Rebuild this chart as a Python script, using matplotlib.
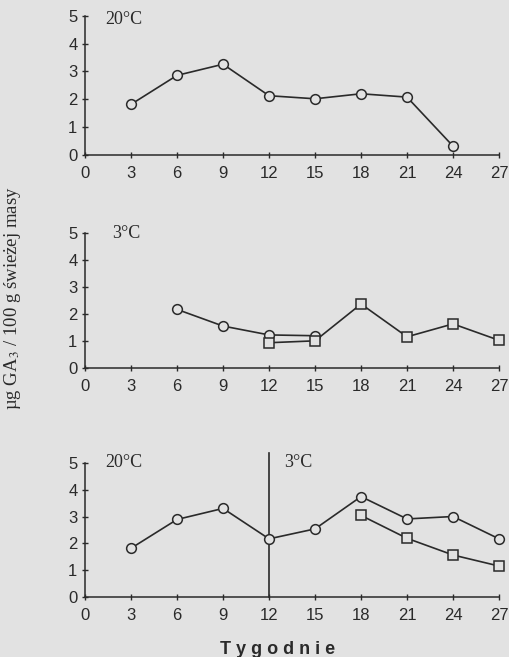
import matplotlib.pyplot as plt

# tygodnie przechowywania
weeks_ticks = [0, 3, 6, 9, 12, 15, 18, 21, 24, 27]

# panel 1 - 20 C
weeks_a = [3, 6, 9, 12, 15, 18, 21, 24]
ga_a = [1.82, 2.86, 3.26, 2.13, 2.02, 2.20, 2.08, 0.32]

# panel 2 - 3 C
weeks_b_circ = [6, 9, 12, 15]
ga_b_circ = [2.17, 1.55, 1.22, 1.19]
weeks_b_sq = [12, 15, 18, 21, 24, 27]
ga_b_sq = [0.93, 1.00, 2.37, 1.15, 1.63, 1.02]

# panel 3 - 20 C potem 3 C
weeks_c_circ = [3, 6, 9, 12, 15, 18, 21, 24, 27]
ga_c_circ = [1.82, 2.89, 3.30, 2.17, 2.54, 3.74, 2.91, 3.00, 2.17]
weeks_c_sq = [18, 21, 24, 27]
ga_c_sq = [3.04, 2.19, 1.57, 1.16]

bg = '#e2e2e2'
ink = '#2a2a2a'
serif = 'Liberation Serif'
sans = 'Liberation Sans'

fig = plt.figure(figsize=(5.1, 6.57), dpi=100, facecolor=bg)

positions = [
    [0.1667, 0.764, 0.8118, 0.212],
    [0.1667, 0.4403, 0.8118, 0.2046],
    [0.1667, 0.0909, 0.8118, 0.2049],
]
axes = [fig.add_axes(p) for p in positions]


def style(ax):
    ax.set_facecolor(bg)
    ax.set_xlim(0, 27)
    ax.set_ylim(0, 5)
    for s in ['top', 'right']:
        ax.spines[s].set_visible(False)
    for s in ['left', 'bottom']:
        ax.spines[s].set_color(ink)
        ax.spines[s].set_linewidth(1.1)
    ax.set_xticks(weeks_ticks)
    ax.set_yticks([0, 1, 2, 3, 4, 5])
    ax.tick_params(axis='x', direction='inout', length=4, width=1, color=ink,
                   pad=6, labelsize=12, labelcolor=ink)
    ax.tick_params(axis='y', direction='inout', length=5, width=1, color=ink,
                   pad=3, labelsize=12, labelcolor=ink)
    for lab in ax.get_xticklabels() + ax.get_yticklabels():
        lab.set_fontfamily(sans)


line_kw = dict(color=ink, linewidth=1.2, clip_on=False, zorder=3)
circ_kw = dict(marker='o', markersize=7, markerfacecolor=bg,
               markeredgecolor=ink, markeredgewidth=1.1)
sq_kw = dict(marker='s', markersize=7.2, markerfacecolor=bg,
             markeredgecolor=ink, markeredgewidth=1.1)

ax = axes[0]
style(ax)
ax.plot(weeks_a, ga_a, **line_kw, **circ_kw)
ax.text(1.3, 4.85, '20°C', family=serif, fontsize=13, color=ink,
        ha='left', va='center')

ax = axes[1]
style(ax)
ax.plot(weeks_b_circ, ga_b_circ, **line_kw, **circ_kw)
ax.plot(weeks_b_sq, ga_b_sq, **line_kw, **sq_kw)
ax.text(1.75, 5.0, '3°C', family=serif, fontsize=13, color=ink,
        ha='left', va='center')

ax = axes[2]
style(ax)
ax.plot([12, 12], [0, 5.36], color=ink, linewidth=1.2, clip_on=False, zorder=2)
ax.plot(weeks_c_circ, ga_c_circ, **line_kw, **circ_kw)
ax.plot(weeks_c_sq, ga_c_sq, **line_kw, **sq_kw)
ax.text(1.3, 5.0, '20°C', family=serif, fontsize=13, color=ink,
        ha='left', va='center')
ax.text(13.0, 5.0, '3°C', family=serif, fontsize=13, color=ink,
        ha='left', va='center')

fig.text(0.025, 1 - 298 / 657, 'µg GA$_3$ / 100 g świeżej masy', rotation=90,
         family=serif, fontsize=13.5, color=ink, ha='center', va='center',
         math_fontfamily='stix')
fig.text(0.545, 1 - 650 / 657, 'T y g o d n i e', family=sans, fontsize=13,
         fontweight='bold', color=ink, ha='center', va='center')

fig.savefig('out.png', dpi=100, facecolor=bg)
